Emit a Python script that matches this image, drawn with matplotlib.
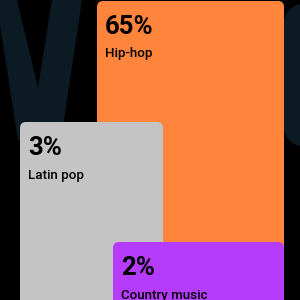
import matplotlib.pyplot as plt
from matplotlib.patches import FancyBboxPatch, Polygon

# data
shares = [65, 3, 2]
genres = ['Hip-hop', 'Latin pop', 'Country music']
colors = ['#FF843C', '#C4C4C4', '#B43CFA']

# layout of the cards (left, top, right) in pixels, cards run off the bottom
cards = [(97, 1, 284), (20, 122, 163), (113, 242, 284)]

bg_shape = '#0C1B23'

fig = plt.figure(figsize=(3, 3), dpi=100, facecolor='black')
ax = fig.add_axes([0, 0, 1, 1])
ax.set_xlim(0, 300)
ax.set_ylim(300, 0)
ax.set_facecolor('black')
ax.axis('off')

# big background letters
ax.add_patch(Polygon([(-4, 0), (17, 0), (38, 88), (52, 0), (82, 0), (61, 140), (18, 140)],
                     closed=True, color=bg_shape, lw=0))
ax.add_patch(FancyBboxPatch((283, 3), 140, 144, boxstyle='round,pad=0,rounding_size=26',
                            color=bg_shape, lw=0))

for share, genre, col, (x0, y0, x1) in zip(shares, genres, colors, cards):
    ax.add_patch(FancyBboxPatch((x0, y0), x1 - x0, 320 - y0,
                                boxstyle='round,pad=0,rounding_size=6',
                                color=col, lw=0))
    ax.text(x0 + 8, y0 + 14, f'{share}%', fontsize=18.5, fontweight='bold',
            family='Roboto', color='black', va='top', ha='left')
    ax.text(x0 + 8, y0 + 46.5, genre, fontsize=9.6, fontweight='medium',
            family='Roboto', color='black', va='top', ha='left')

fig.savefig('out.png', dpi=100, facecolor='black')
